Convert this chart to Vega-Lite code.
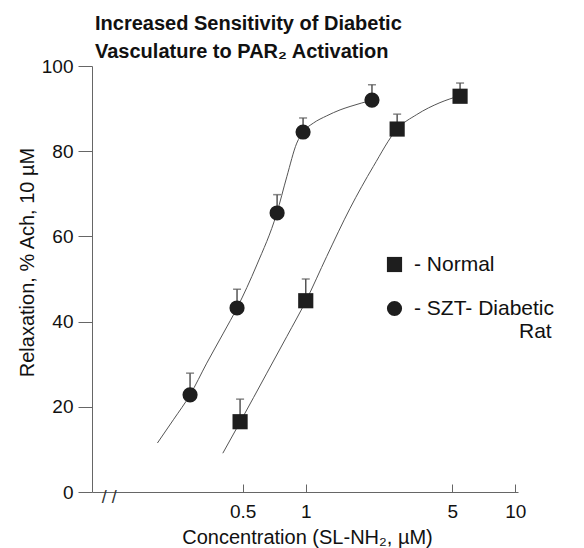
{
  "$schema": "https://vega.github.io/schema/vega-lite/v6.json",
  "width": 426,
  "height": 426,
  "autosize": {"type": "none"},
  "padding": {"left": 92, "top": 66, "right": 66, "bottom": 56},
  "background": "white",
  "title": {
    "text": ["Increased Sensitivity of Diabetic", "Vasculature to PAR₂ Activation"],
    "anchor": "start",
    "frame": "group",
    "font": "Liberation Sans",
    "fontSize": 20,
    "fontWeight": "bold",
    "lineHeight": 28,
    "offset": -5,
    "dx": 3,
    "color": "#111"
  },
  "datasets": {
    "points": [
      {"group": "Normal", "conc": 0.486, "relax": 16.5, "err": 21.8},
      {"group": "Normal", "conc": 1.0, "relax": 44.9, "err": 50.0},
      {"group": "Normal", "conc": 2.73, "relax": 85.2, "err": 88.7},
      {"group": "Normal", "conc": 5.45, "relax": 92.9, "err": 96.0},
      {"group": "SZT- Diabetic Rat", "conc": 0.2805, "relax": 22.8, "err": 27.9},
      {"group": "SZT- Diabetic Rat", "conc": 0.47, "relax": 43.2, "err": 47.6},
      {"group": "SZT- Diabetic Rat", "conc": 0.73, "relax": 65.5, "err": 69.8},
      {"group": "SZT- Diabetic Rat", "conc": 0.971, "relax": 84.5, "err": 87.8},
      {"group": "SZT- Diabetic Rat", "conc": 2.07, "relax": 92.0, "err": 95.6}
    ],
    "curves": [
      {"group": "Normal", "conc": 0.402, "relax": 9.1},
      {"group": "Normal", "conc": 0.486, "relax": 16.4},
      {"group": "Normal", "conc": 0.652, "relax": 27.9},
      {"group": "Normal", "conc": 0.812, "relax": 36.5},
      {"group": "Normal", "conc": 1.003, "relax": 44.9},
      {"group": "Normal", "conc": 1.259, "relax": 55.3},
      {"group": "Normal", "conc": 1.627, "relax": 66.6},
      {"group": "Normal", "conc": 2.1, "relax": 76.4},
      {"group": "Normal", "conc": 2.73, "relax": 85.2},
      {"group": "Normal", "conc": 3.385, "relax": 88.6},
      {"group": "Normal", "conc": 4.37, "relax": 91.4},
      {"group": "Normal", "conc": 5.43, "relax": 93.0},
      {"group": "SZT- Diabetic Rat", "conc": 0.196, "relax": 11.5},
      {"group": "SZT- Diabetic Rat", "conc": 0.2335, "relax": 16.95},
      {"group": "SZT- Diabetic Rat", "conc": 0.2805, "relax": 22.8},
      {"group": "SZT- Diabetic Rat", "conc": 0.337, "relax": 30.25},
      {"group": "SZT- Diabetic Rat", "conc": 0.4045, "relax": 37.3},
      {"group": "SZT- Diabetic Rat", "conc": 0.47, "relax": 43.2},
      {"group": "SZT- Diabetic Rat", "conc": 0.584, "relax": 53.3},
      {"group": "SZT- Diabetic Rat", "conc": 0.727, "relax": 65.4},
      {"group": "SZT- Diabetic Rat", "conc": 0.812, "relax": 74.0},
      {"group": "SZT- Diabetic Rat", "conc": 0.906, "relax": 81.9},
      {"group": "SZT- Diabetic Rat", "conc": 0.974, "relax": 84.6},
      {"group": "SZT- Diabetic Rat", "conc": 1.087, "relax": 86.6},
      {"group": "SZT- Diabetic Rat", "conc": 1.259, "relax": 88.3},
      {"group": "SZT- Diabetic Rat", "conc": 1.458, "relax": 89.7},
      {"group": "SZT- Diabetic Rat", "conc": 1.627, "relax": 90.5},
      {"group": "SZT- Diabetic Rat", "conc": 2.08, "relax": 92.0}
    ],
    "axisbreak": [
      {"conc": 0.1155, "relax": -1.3, "label": "/ /"}
    ]
  },
  "encoding": {
    "x": {
      "field": "conc",
      "type": "quantitative",
      "scale": {"type": "log", "domain": [0.0955, 10.3], "nice": false},
      "axis": {
        "title": "Concentration (SL-NH₂, µM)",
        "values": [0.5, 1, 5, 10],
        "format": "~g",
        "tickSize": -8,
        "labelPadding": 18,
        "labelBaseline": "top",
        "labelFlush": false,
        "titleX": 215,
        "titleY": 45,
        "titleAlign": "center",
        "titleBaseline": "middle"
      }
    },
    "y": {
      "field": "relax",
      "type": "quantitative",
      "scale": {"domain": [0, 100], "nice": false, "zero": false},
      "axis": {
        "title": "Relaxation, % Ach, 10 µM",
        "values": [0, 20, 40, 60, 80, 100],
        "tickSize": 14,
        "labelPadding": 5,
        "titleX": -65,
        "titleY": 196,
        "titleAlign": "center",
        "titleBaseline": "middle",
        "titleAngle": -90
      }
    }
  },
  "layer": [
    {
      "data": {"name": "curves"},
      "mark": {"type": "line", "interpolate": "monotone", "color": "#555", "strokeWidth": 1, "clip": false},
      "encoding": {"detail": {"field": "group"}}
    },
    {
      "data": {"name": "points"},
      "mark": {"type": "rule", "color": "#555", "strokeWidth": 1.5, "clip": false},
      "encoding": {"y2": {"field": "err"}}
    },
    {
      "data": {"name": "points"},
      "mark": {"type": "tick", "orient": "horizontal", "color": "#555", "size": 8, "thickness": 1.5, "clip": false},
      "encoding": {"y": {"field": "err", "type": "quantitative"}}
    },
    {
      "data": {"name": "points"},
      "mark": {"type": "point", "filled": true, "color": "#1e1e1e", "opacity": 1, "size": 230, "clip": false},
      "encoding": {
        "shape": {
          "field": "group",
          "type": "nominal",
          "scale": {"domain": ["Normal", "SZT- Diabetic Rat"], "range": ["square", "circle"]},
          "legend": {
            "title": null,
            "orient": "none",
            "legendX": 292,
            "legendY": 188,
            "padding": 0,
            "symbolSize": 230,
            "symbolFillColor": "#1e1e1e",
            "symbolStrokeColor": "#1e1e1e",
            "symbolOpacity": 1,
            "labelFont": "Liberation Sans",
            "labelFontSize": 21,
            "labelColor": "#111",
            "labelOffset": 9,
            "labelLimit": 0,
            "rowPadding": 21,
            "labelExpr": "datum.value == 'Normal' ? '- Normal' : ['- SZT- Diabetic', '\u200b\u00a0\u00a0\u00a0\u00a0\u00a0\u00a0\u00a0\u00a0\u00a0\u00a0\u00a0\u00a0\u00a0\u00a0\u00a0\u00a0\u00a0\u00a0Rat']"
          }
        }
      }
    },
    {
      "data": {"name": "axisbreak"},
      "mark": {"type": "text", "color": "#333", "fontSize": 18, "font": "Liberation Sans", "align": "center", "baseline": "middle", "clip": false},
      "encoding": {
        "text": {"field": "label"}
      }
    }
  ],
  "config": {
    "view": {"stroke": null},
    "font": "Liberation Sans",
    "axis": {
      "grid": false,
      "domainColor": "#666",
      "domainWidth": 1,
      "tickColor": "#666",
      "tickWidth": 1,
      "labelColor": "#111",
      "titleColor": "#111",
      "labelFont": "Liberation Sans",
      "titleFont": "Liberation Sans",
      "labelFontSize": 19,
      "titleFontSize": 20,
      "titleFontWeight": "normal"
    }
  }
}
